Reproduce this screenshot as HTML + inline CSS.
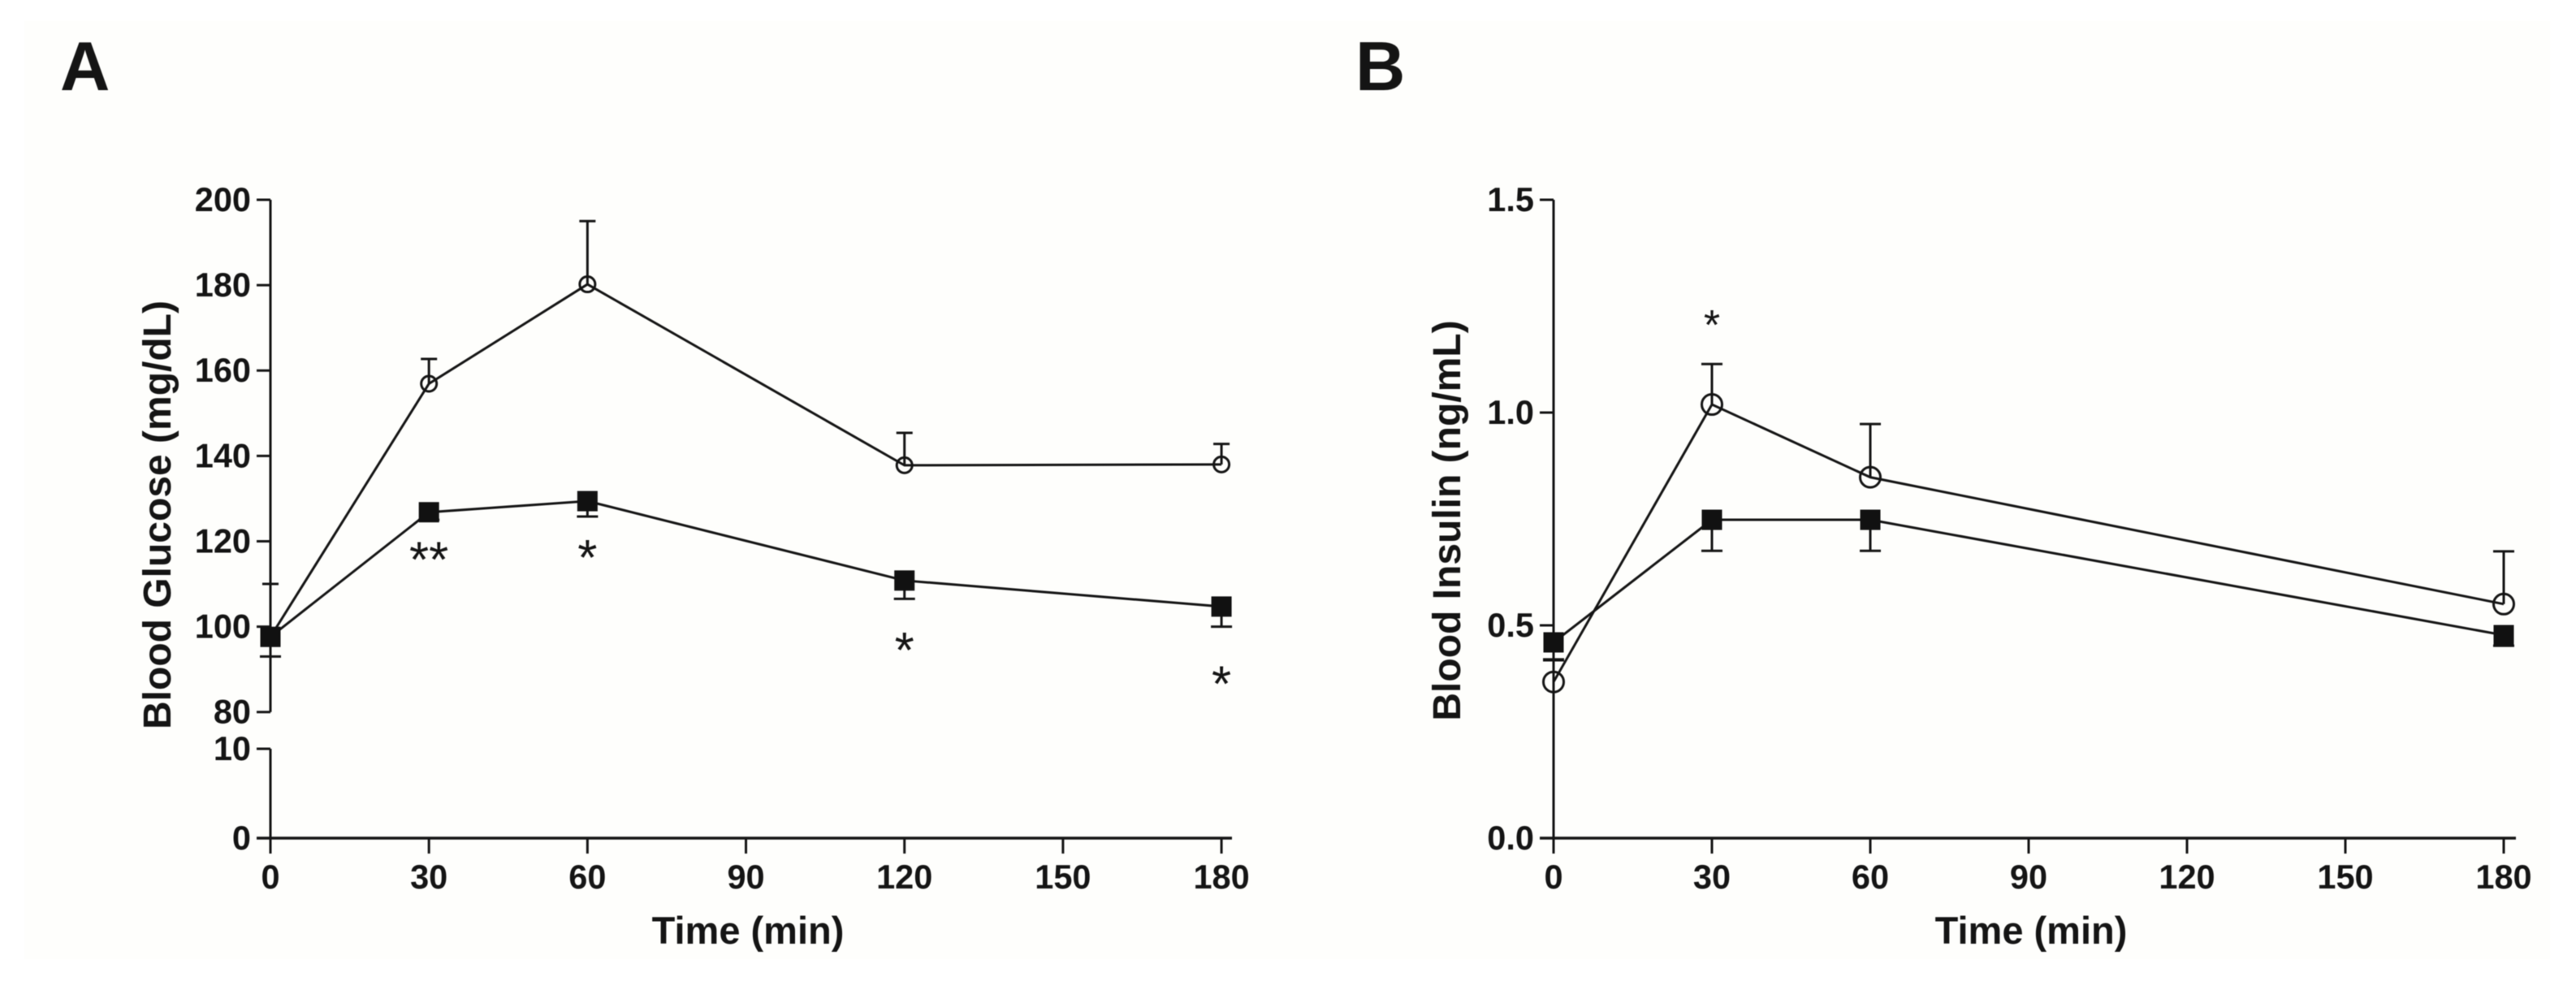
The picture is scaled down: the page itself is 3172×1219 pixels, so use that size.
<!DOCTYPE html>
<html lang="en">
<head>
<meta charset="utf-8">
<title>Blood glucose and insulin over time</title>
<style>
html,body{margin:0;padding:0;background:#fff}
svg{display:block;filter:blur(.6px)}
text{font-family:"Liberation Sans",Arial,sans-serif;fill:#141414}
</style>
</head>
<body>
<svg id="figure" xmlns="http://www.w3.org/2000/svg" width="3172" height="1219" viewBox="0 0 3172 1219">
  <rect x="0" y="0" width="3172" height="1219" fill="#ffffff"/>
  <rect x="30" y="26" width="3110" height="1155" fill="#fefefc"/>
  <text x="74" y="111" font-size="85" font-weight="700">A</text>
  <text x="1669" y="111" font-size="85" font-weight="700">B</text>
  <text x="921" y="1162" font-size="47" font-weight="700" text-anchor="middle">Time (min)</text>
  <text x="2501" y="1162" font-size="47" font-weight="700" text-anchor="middle">Time (min)</text>
  <text transform="translate(210,634) rotate(-90)" font-size="48" font-weight="700" text-anchor="middle">Blood Glucose (mg/dL)</text>
  <text transform="translate(1798,641) rotate(-90)" font-size="48" font-weight="700" text-anchor="middle">Blood Insulin (ng/mL)</text>
  <g id="panel-a"></g>
  <g id="panel-b"></g>
</svg>
<script>
// Panel A: blood glucose
const xTicksA = [0, 30, 60, 90, 120, 150, 180];
const yTicksUpperA = [80, 100, 120, 140, 160, 180, 200];
const yTicksLowerA = [0, 10];
const timesOpenA = [0, 30, 60, 120, 180];
const openMeanA = [97.6, 156.9, 180.2, 137.8, 138];
const openErrTopA = [110, 162.7, 195, 145.4, 142.8];
const timesFilledA = [0, 30, 60, 120, 180];
const filledMeanA = [97.6, 126.8, 129.4, 110.8, 104.7];
const filledErrLowA = [93, 125, 125.8, 106.5, 100];
const sigTimesA = [30, 60, 120, 180];
const sigLabelsA = ['**', '*', '*', '*'];
const sigLevelsA = [116.9, 117.4, 95.7, 87.8];

// Panel B: blood insulin
const xTicksB = [0, 30, 60, 90, 120, 150, 180];
const yTicksB = [0, 0.5, 1, 1.5];
const yTickLabelsB = ['0.0', '0.5', '1.0', '1.5'];
const timesOpenB = [0, 30, 60, 180];
const openMeanB = [0.367, 1.019, 0.848, 0.55];
const openErrTopB = [0.42, 1.114, 0.973, 0.674];
const timesFilledB = [0, 30, 60, 180];
const filledMeanB = [0.46, 0.748, 0.748, 0.477];
const filledErrLowB = [0.418, 0.675, 0.675, 0.452];
const sigTimesB = [30];
const sigLabelsB = ['*'];
const sigLevelsB = [1.216];

const SVG_NS = 'http://www.w3.org/2000/svg';
const INK = '#141414';

function make(parent, tag, attrs) {
  const el = document.createElementNS(SVG_NS, tag);
  for (const k in attrs) el.setAttribute(k, attrs[k]);
  parent.appendChild(el);
  return el;
}

function line(parent, x1, y1, x2, y2, width) {
  return make(parent, 'line', {x1: x1, y1: y1, x2: x2, y2: y2, stroke: INK, 'stroke-width': width});
}

// Axis functions
function xA(t) { return 333 + t * 6.506; }
function yA(v) { return v >= 80 ? 876.7 - (v - 80) * 5.256 : 1032 - v * 11; }
function xB(t) { return 1913 + t * 6.5; }
function yB(v) { return 1032 - v * 524; }

function drawXAxis(g, ticks, x, endX) {
  const axisLine = line(g, x(0) - 17, 1032, endX, 1032, 3.5);
  
  
  ticks.forEach(function (t) {
    const tick = line(g, x(t), 1032, x(t), 1051, 3);
    
    
    const label = make(g, 'text', {x: x(t), y: 1094, 'font-size': 41.5, 'font-weight': 700, 'text-anchor': 'middle'});
    label.textContent = String(t);
    
    
  });
}

function drawYTick(g, axisX, y, text) {
  const tick = line(g, axisX - 17, y, axisX, y, 3);
  
  
  const label = make(g, 'text', {x: axisX - 24, y: y + 14, 'font-size': 41.5, 'font-weight': 700, 'text-anchor': 'end'});
  label.textContent = text;
  
  
}

function drawSeries(g, times, means, x, y, prefix) {
  const pts = times.map(function (t, i) { return x(t) + ',' + y(means[i]); }).join(' ');
  const path = make(g, 'polyline', {points: pts, fill: 'none', stroke: INK, 'stroke-width': 3, 'stroke-linejoin': 'miter'});
  
  
}

function drawOpenMarks(g, times, means, tops, x, y, radius, capHalf) {
  times.forEach(function (t, i) {
    const whisker = line(g, x(t), y(means[i]), x(t), y(tops[i]), 3);
    
    
    const cap = line(g, x(t) - capHalf, y(tops[i]), x(t) + capHalf, y(tops[i]), 3);
    
    
    const dot = make(g, 'circle', {cx: x(t), cy: y(means[i]), r: radius, fill: 'none', stroke: INK, 'stroke-width': 3});
    
    
  });
}

function drawFilledMarks(g, times, means, lows, x, y, size, capHalf) {
  times.forEach(function (t, i) {
    const whisker = line(g, x(t), y(means[i]), x(t), y(lows[i]), 3);
    
    
    const cap = line(g, x(t) - capHalf, y(lows[i]), x(t) + capHalf, y(lows[i]), 3);
    
    
    const box = make(g, 'rect', {x: x(t) - size / 2, y: y(means[i]) - size / 2, width: size, height: size, fill: '#111'});
    
    
  });
}

function drawSignificance(g, times, labels, levels, x, y, fontSize) {
  times.forEach(function (t, i) {
    const mark = make(g, 'text', {x: x(t), y: y(levels[i]) + fontSize * 0.45, 'font-size': fontSize, 'text-anchor': 'middle'});
    mark.textContent = labels[i];
    
    
  });
}

// Panel A
const gA = document.getElementById('panel-a');
const upperAxisA = line(gA, 333, yA(200), 333, yA(80), 3);


const lowerAxisA = line(gA, 333, yA(10), 333, 1032, 3);


yTicksUpperA.forEach(function (v) { drawYTick(gA, 333, yA(v), String(v)); });
yTicksLowerA.forEach(function (v) { drawYTick(gA, 333, yA(v), String(v)); });
drawXAxis(gA, xTicksA, xA, 1517);
drawSeries(gA, timesOpenA, openMeanA, xA, yA, 'open-series');
drawSeries(gA, timesFilledA, filledMeanA, xA, yA, 'filled-series');
drawOpenMarks(gA, timesOpenA, openMeanA, openErrTopA, xA, yA, 9.5, 10);
drawFilledMarks(gA, timesFilledA, filledMeanA, filledErrLowA, xA, yA, 25, 13);
drawSignificance(gA, sigTimesA, sigLabelsA, sigLevelsA, xA, yA, 62);

// Panel B
const gB = document.getElementById('panel-b');
const axisB = line(gB, 1913, yB(1.5), 1913, 1032, 3);


yTicksB.forEach(function (v, i) { drawYTick(gB, 1913, yB(v), yTickLabelsB[i]); });
drawXAxis(gB, xTicksB, xB, 3098);
drawSeries(gB, timesOpenB, openMeanB, xB, yB, 'open-series');
drawSeries(gB, timesFilledB, filledMeanB, xB, yB, 'filled-series');
drawOpenMarks(gB, timesOpenB, openMeanB, openErrTopB, xB, yB, 12.5, 13);
drawFilledMarks(gB, timesFilledB, filledMeanB, filledErrLowB, xB, yB, 25, 13);
drawSignificance(gB, sigTimesB, sigLabelsB, sigLevelsB, xB, yB, 52);
</script>
</body>
</html>
